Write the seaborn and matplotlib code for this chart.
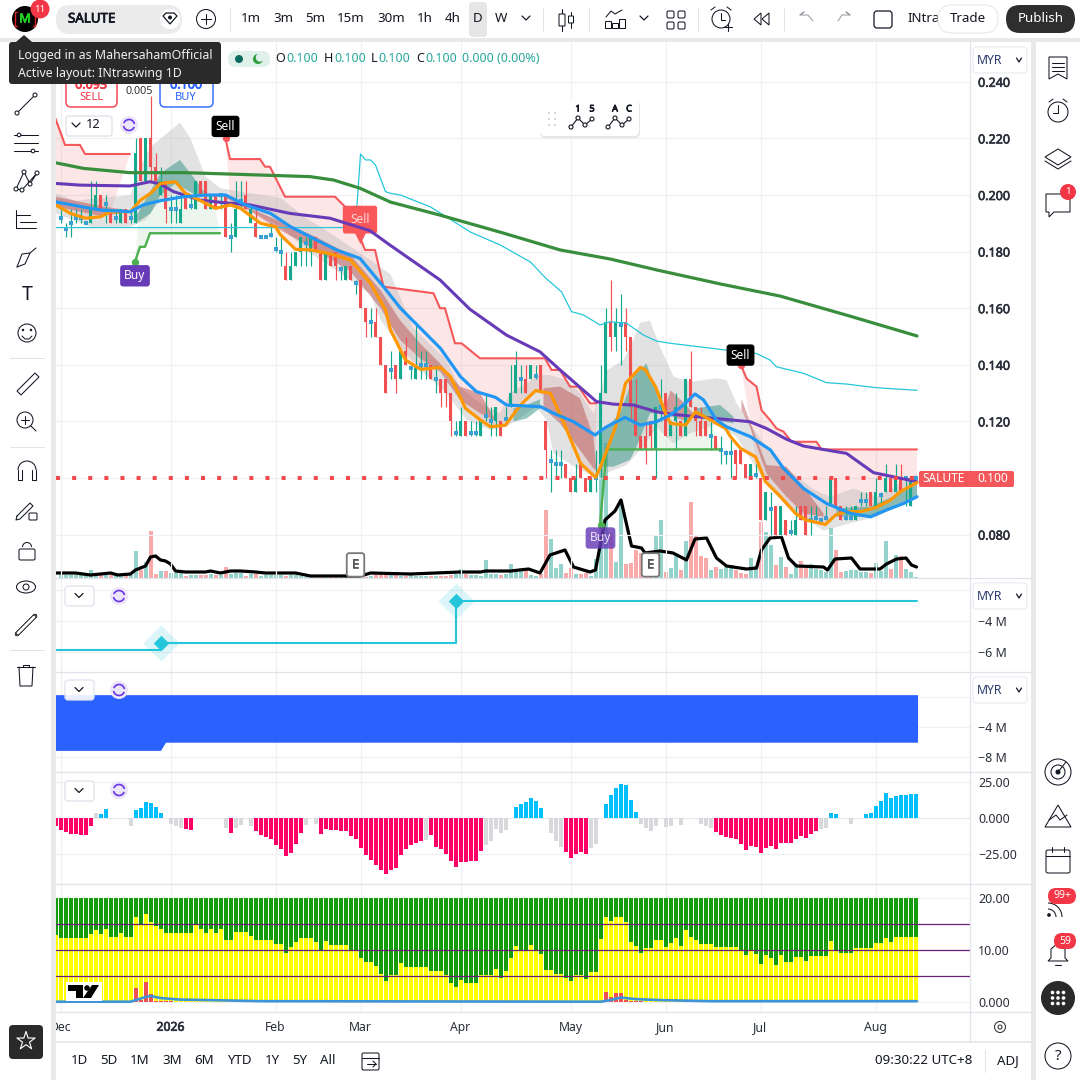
import numpy as np
import matplotlib
matplotlib.use('Agg')
import matplotlib.pyplot as plt
import matplotlib.patheffects as pe
from matplotlib.patches import FancyBboxPatch, Rectangle, Circle, Polygon
import seaborn as sns

# ---- candles, price x 1000, one entry per daily bar ----
opens = [192,188,190,192,192,190,190,195,200,197,
         195,192,190,195,192,190,220,205,220,210,
         200,205,195,195,190,200,196,195,205,205,
         195,200,200,200,185,185,198,200,190,190,
         185,185,186,181,180,175,170,175,180,183,
         180,185,180,170,180,180,174,170,175,169,
         170,160,155,155,150,140,138,140,135,145,
         139,135,140,140,140,135,135,135,130,116,
         115,120,116,116,115,122,120,120,120,121,
         125,130,135,135,135,136,140,120,106,105,
         105,105,100,95,105,100,95,100,105,130,
         155,150,154,155,150,125,115,115,120,110,
         125,130,115,120,120,115,135,125,120,120,
         115,115,110,109,109,110,110,105,100,101,
         100,85,89,90,80,85,81,80,90,90,
         85,86,85,86,90,100,90,86,86,85,
         92,92,95,90,94,95,100,95,100,100,90,100]
highs = [195,190,195,195,195,190,205,205,200,200,
         195,195,195,195,195,220,220,220,235,215,
         210,205,200,200,200,200,200,205,205,205,
         200,200,200,200,190,205,205,205,197,195,
         185,185,190,185,185,180,180,180,185,185,
         185,185,180,180,180,180,175,175,175,170,
         170,160,160,160,150,140,145,140,145,150,
         140,155,145,145,140,140,135,135,130,120,
         125,120,120,120,120,130,125,125,120,125,
         140,145,140,140,140,140,140,120,110,110,
         110,105,100,105,105,100,100,110,140,160,
         170,160,165,160,150,135,115,120,120,125,
         135,130,120,130,120,135,145,125,125,120,
         120,115,115,110,115,110,110,105,105,105,
         100,95,95,90,90,85,85,90,90,90,
         90,90,85,90,100,100,90,90,90,90,
         95,95,95,100,95,105,100,105,105,100,100,100]
lows = [190,185,185,190,190,190,190,195,195,190,
        190,190,190,190,190,190,205,205,205,205,
        200,190,190,190,190,195,195,195,200,195,
        195,195,195,185,180,185,195,195,190,185,
        185,185,185,180,175,170,170,175,175,175,
        175,180,170,170,175,170,170,170,170,165,
        160,150,150,150,140,130,135,130,135,140,
        135,135,135,135,135,130,125,125,115,115,
        115,115,115,115,115,120,115,115,115,120,
        125,130,130,130,135,135,130,100,95,100,
        100,100,95,95,100,95,95,95,100,130,
        145,145,140,145,120,115,110,105,110,100,
        120,115,115,110,115,115,125,115,115,115,
        110,110,105,105,100,100,105,100,100,100,
        85,85,80,80,80,80,80,80,85,80,
        80,85,85,85,90,90,85,85,85,85,
        90,90,90,90,90,95,95,95,95,90,90,100]
closes = [192,188,190,192,192,190,195,200,195,197,
          190,192,195,190,192,215,205,220,210,205,
          205,195,195,195,195,195,196,205,200,195,
          200,195,200,185,185,195,198,195,195,185,
          185,185,186,181,180,170,175,180,185,183,
          185,180,170,180,175,175,174,175,170,169,
          160,155,155,150,140,130,138,135,145,140,
          139,140,140,140,135,135,130,130,120,116,
          120,115,116,116,120,122,120,125,115,121,
          130,140,135,130,140,136,130,110,106,105,
          105,100,95,100,100,95,100,100,130,155,
          150,155,154,150,125,115,110,110,115,125,
          125,115,120,125,115,135,125,120,115,115,
          115,110,110,109,109,105,105,100,105,101,
          85,95,89,80,90,80,81,85,85,80,
          85,86,85,86,100,90,85,86,86,90,
          92,92,90,95,94,100,95,100,95,100,100,100]
volumes = [3,3,3,3,3,2,8,3,3,3,
           3,3,3,3,3,27,8,16,47,4,
           7,7,5,5,5,2,3,3,3,3,
           4,3,3,11,4,5,5,2,4,4,
           2,3,3,3,3,2,3,3,2,1,
           1,1,2,1,1,1,1,1,2,1,
           1,1,2,3,3,3,3,3,2,2,
           3,2,2,2,2,2,2,2,3,4,
           9,4,3,3,2,18,4,4,3,4,
           14,9,8,9,3,2,4,68,39,10,
           14,5,10,4,4,5,2,19,120,135,
           45,16,78,14,15,28,25,3,3,43,
           58,6,10,25,8,37,76,43,22,20,
           8,11,9,11,13,8,5,4,20,12,
           56,46,33,13,21,11,4,14,17,10,
           14,9,8,6,50,28,6,7,8,8,
           6,6,5,15,7,37,9,23,22,9,6,1]

# ---- lines on the price pane, read at their bends: bar number, price x 1000 ----
orange_x = [-1,2,5,8,10,14,16,18,20,23,25,28,31,34,36,40,43,44,47,50,54,58,62,65,66,69,72,76,78,81,84,86,89,92,95,98,101,104,107,108,111,113,116,117,119,121,122,125,127,130,133,134,136,139,141,144,147,149,153,155,157,160,163,166,168,171.3]
orange_y = [196.5,193.5,191.8,192.3,194.1,194.1,198.2,200.6,204.1,204.7,200.6,198,195.3,196.5,195.3,190,188.8,185.9,180.8,180.6,179.2,177,168.8,159.4,152.3,141.7,138.4,139.1,135.8,124.6,120.5,118.1,118.7,125.8,130.9,129.9,118.1,105.2,100.2,104,118,133.5,139.1,138.2,132.3,122.9,119.3,118.7,123.4,120.5,117.5,114.6,110.5,107.5,98.7,93.4,87.5,85.2,83.6,86.9,88.1,88.1,89.5,92.2,95.2,98.4]
blue_x = [-1,5,8,14,16.5,20,24.6,29.2,33,37,42,46,51.2,55.2,59.9,64.6,68,72,76,80,83.2,87,89.2,96,98.6,102.6,106.9,109.2,112.9,115.9,119.2,122,124.6,126.9,128.6,131.2,133.2,138,142,144.6,148.6,153.2,158,162,165.2,168.6,171.3]
blue_y = [197.6,195.6,194.7,194.1,196.5,198,199.4,200,200,196.5,193.5,188.8,184.1,180.6,177.6,167.6,160,152.9,145.8,135.8,130.5,128.5,125.8,125.2,122.9,119.9,115.2,118.1,121.4,118.7,119.9,122.3,125.8,129.7,127.6,120.5,118.1,114.6,109.9,103.4,96.3,91,87.5,86.3,88.7,91,93.4]
purple_x = [-1,3.9,13.9,17.9,19.9,22.6,27.9,32.6,37.9,45.9,53.9,61.9,65.9,75.9,81.9,89.2,95.9,99.9,107.2,110.6,114.6,119.2,122,130.6,137.9,141.2,145.2,148.6,153.2,157.2,162.6,167.2,171.3]
purple_y = [204.1,203.5,203.2,204.7,203.9,201.2,198.2,197.3,196.5,193.5,191.8,187.4,182.3,170,159.6,150.5,144.6,138.2,127,126.1,125.8,123.4,122.6,121.1,119.9,117.5,113.7,111.3,109.9,108.7,101.9,100.2,98.7]
long_x = [-1,4.6,13.9,25,49.9,54.6,59.9,66,75.9,87.9,99.9,109.9,119.3,131.9,143.9,157.9,171.3]
long_y = [211.4,209.4,207.9,207.9,206.5,205.3,202.4,197.5,192.9,186.9,180.6,177.4,173.5,168.6,164.3,157.2,150.2]
cyan_x = [-1,59,60,61,62,63,65,66,68,74,82,88,94,97,100.2,102.2,104.6,107.9,109.9,113.2,116.6,119.2,122,133.2,139.2,141.9,143.2,148.6,153.2,157.2,163.2,171.3]
cyan_y = [188.5,188.5,214.5,212.4,212.4,210.6,201.2,200.6,200,195.8,186.9,182.3,176.3,170.7,165.8,158.8,157.6,154.1,155.2,154.7,150.5,148.4,147.6,145.2,144,141.7,139.3,137,133.7,133.2,131.9,131]

# trailing stop pieces
red1_x = [-1,0.9,3.9,4.9,13.9]
red1_y = [227,217.7,217.7,214.5,214.5]
red2_x = [33,33.9,39.9,40.9,41.9,44.9,54.9,57.9,60.9,62.9,64.6,74.6,75.9,76.9,78.9,80.2,83.9,96.9,98.2,99.9,101.9,103.6,105.9,107.2]
red2_y = [220,212.7,212.7,210,210,199.4,199.4,194.1,180.6,180.6,167.6,165.3,160,160,147.6,147.6,142.3,142.3,138.2,138.2,132.3,132.3,126.4,126.4]
red3_x = [136.1,137.2,139.2,140.2,141.9,143.2,144.6,146.2,151.2,152.2,171.3]
red3_y = [139.9,135.2,132.3,124,120.5,117.5,116.4,112.8,112.8,110.1,110.1]
green1_x = [14.9,15.9,16.9,17.9,31.9]
green1_y = [176.4,181.7,181.7,186.5,186.5]
green2_x = [107.9,109.2,109.9,131.9]
green2_y = [83.4,109.9,110.1,110.1]

# grey envelope
grey_up_x = [-1,3,14,16,18,23.9,26,29,32,38,44,49,54.6,62,66,70.6,77.2,79.9,83.9,87.9,89.9,93.2,95.9,97.9,101.2,103.9,106.6,107.9,109.2,112.6,114.6,115.9,117.9,119.9,122.6,125.9,131.2,133.2,135.2,137.9,140.6,145.2,150.6,153.9,158.6,163.2,171.3]
grey_up_y = [200.6,198,200,210,217,225.6,220,206.5,202.4,200.6,199,192,185.8,177,172,152.9,141.7,132,126.4,122.9,130,133.5,136.4,136.4,134.6,130,122.9,130,138,141.7,148.8,154.9,155.6,146.4,135.8,134,135.2,134.6,126.4,119.3,112.2,103.4,96,93.4,96.3,93.4,101.5]
grey_lo_x = [-1,6,14,17,20,23,28,31,38,44,50,56,62,64,67.9,71.9,77.2,81.2,85.9,89.2,95.2,97.2,98.6,103.9,107.2,109.9,113.2,116.6,119.2,122.6,125.9,131.2,135.2,140.6,145.2,149.9,152.6,157.9,163.2,171.3]
grey_lo_y = [193.5,188.8,188.8,191.2,198,200.6,198,197,194.7,188.8,179.4,172.3,164.9,155.8,146.4,138.2,130,120.5,117,118.1,125,120.5,108.7,102.8,100.5,102.2,104.6,111,118,112.2,115.8,119,114.6,99.3,89.9,84.6,81.4,84,86.3,93.4]

# ribbons between the two fast averages
red_rib_1 = ([-1,8,14], [199.4,196.1,194.5], [-1,8,14], [195.9,192.6,193.9])
red_rib_2 = ([33,37,44,51,58,64,67.9,71.9,75.9,79.9,83.9,87.2],
             [200,195.9,190.6,185.3,178.8,166.4,155.8,147.6,140.5,132.3,129.9,120],
             [33,37,44,51,58,64,67.9,71.9,75.9,79.9,83.9,87.2],
             [199,195.3,187.6,180.6,173,160,148.8,142.3,137.6,127.6,122.9,120])
red_rib_3 = ([96.6,99.9,103.9,106.6,107.2], [131.7,132.3,128.2,114.6,102.8],
             [96.6,99.9,103.9,106.6,107.2], [124.6,119.3,109.9,103.4,102.8])
red_rib_4 = ([120.6,122,125,127], [122.9,131,126,122], [120.6,122,125,127], [122.9,122,120,122])
red_rib_5 = ([136.2,137.9,141.2,145.2,148.6,152.6], [128,119.9,104.6,104,96.9,87.5],
             [136.2,137.9,141.2,145.2,148.6,152.6], [124,118,101.6,93.4,87.5,86.3])
teal_rib_1 = ([15,20,23.9,27,29], [192,207.7,212.4,205.3,200.6], [15,18,20,23,27,29], [190,193.5,200,204.1,200,200.6])
teal_rib_2 = ([90.6,93.2,95.9], [124.6,125.8,127.8], [90.6,93.2,95.9], [119.9,121,124.6])
teal_rib_3 = ([108.2,111.9,114.6,117.2,119.2,120.6], [115.8,122.9,135.8,140.5,129.9,122.9],
              [108.2,110.6,113.9,115.2,117.9,120.6], [104,104,106.4,111,122.9,122.9])
teal_rib_4 = ([126.9,131.9,134.6], [124.6,125.8,121.7], [126.9,130.6,134.6], [123.4,120.5,119.3])
teal_rib_5 = ([155.2,161.9,167.2,171.3], [89.3,89.9,94,98.1], [155.2,161.9,167.2,171.3], [86.3,86.3,90.6,93.4])

# volume average line
vol_avg_x = [-1,3,6,10,11.5,14,15,17,18,19,20,21,22,23,25,29,30,32,34,36,39,41,47,50,60,62,70,80,84,85,87,90,93.6,95.9,97.9,100.9,102.6,105.9,107,108.9,110.9,112.1,114.2,116.2,116.9,119.9,122.5,125.2,126.9,129.2,131.2,133.2,137.2,139.2,140.2,141.9,144.2,145.6,147.2,152.6,153.4,154.9,158.2,159.9,163.9,165.2,167.2,169.1,170.2,171.2]
vol_avg_y = [5,5,3,5,3,4,8,12,21,22,18,17,14,7,6,6,7,5,7,7,6,5,5,2,2,5,4,6,6,7,7,7,9,5,23,28,11,6,8,58,67,78,32,30,25,27,25,18,39,40,20,12,9,10,28,40,41,20,12,11,8,19,20,9,9,14,19,20,13,11]

# ---- lower panes ----
pane2_x = [-1,20,20,79,79,171.3]
pane2_y = [-5.87,-5.87,-5.45,-5.45,-2.71,-2.71]
pane2_marks_x = [20,79]
pane2_marks_y = [-5.45,-2.71]
flow_x = [-1,20,21,171.4]
flow_top = [0.27,0.27,0.27,0.27]
flow_bottom = [-7.16,-7.16,-6.07,-6.07]

momentum = [-8.1,-9.7,-10.9,-10.9,-11.6,-11.6,-5.3,3.5,2.8,6.3,
            0,0,0,0,-5.1,5.8,6.9,11.1,10.4,7.6,
            3.5,0,-3.9,-5.1,-6.5,-7.4,-8.1,0,0,0,
            0,0,0,-6.5,-10,-6.5,-4.6,0,-5.3,-8.8,
            -11.6,-12.7,-14.4,-18.5,-21.3,-26.2,-23.8,-17.8,-10,-4.6,
            0,-3.9,-10.9,-7.4,-8.1,-8.1,-8.8,-8.8,-12.3,-14.4,
            -20.6,-25.5,-28.9,-32.4,-35.9,-38.7,-35.9,-34.5,-25.5,-21.3,
            -18.5,-17.1,-15.7,-15,-11.3,-19.7,-21.3,-24.8,-29.4,-33.8,
            -30.3,-30.3,-29.6,-29.6,-22.7,-18.5,-15.7,-7.4,-10.2,-8.1,
            0,7.6,10,11.1,13.9,12,7.4,0,-10,-15.5,
            -19.7,-23.2,-27.3,-24.5,-23.2,-24.5,-20.4,-17.6,0,10,
            16.2,21.1,23.8,23.2,12.7,4.4,-3.9,-6.7,-8.8,-5.3,
            0,-6,-5.3,0,-4.6,0,0,0,-3.9,-5.3,
            -6.7,-9.5,-11.6,-13,-13.7,-14.4,-17.8,-22,-19.2,-19.9,
            -24.1,-20.6,-19.2,-21.3,-17.1,-17.1,-17.1,-14.4,-12.3,-13.7,
            -11,-8.8,-7.4,-6.7,3.7,3,0,0,-3.9,0,
            0,3,3.7,8.6,12,17.6,14.1,15.5,16.2,16.2,16.9,16.9]
momentum_grey = [7,14,22,23,24,33,35,36,38,49,51,73,85,86,87,88,89,98,99,100,106,107,116,117,118,119,121,122,124,128,129,130,152,153,158]

yellow = [12.2,12.2,12.2,12.2,12.2,12.2,13,13.7,13,13.9,
          12.4,12.4,13.2,12.4,12.4,16.2,14.7,16.8,15.3,14.5,
          13.9,13.2,13.2,13.2,13.2,13.2,13.2,14.7,13.9,13.2,
          13.9,13.2,13.9,11.8,11.8,13.4,13.4,13.4,12.6,11.8,
          11.8,11.8,11.8,11.1,11.1,9.3,10.5,11.4,12.2,12.2,
          12.2,11.4,9.7,11.6,10.9,10.9,10.9,10.9,9.9,9.9,
          8.4,7.6,7.6,6.8,5.3,4,5.1,5.1,7.4,6.6,
          6.6,6.6,6.6,6.6,5.9,5.9,5.9,5.1,3.6,2.8,
          4.2,3.6,3.6,3.6,5.1,5.1,5.1,6.3,4.5,5.9,
          8.4,10.7,9.7,9.7,10.9,9.9,9.1,6.1,6.1,5.3,
          5.3,4.5,4,5.1,5.1,4.3,5.7,5.7,12,16.2,
          15.5,16.2,16.2,15.3,11.4,10.7,9.3,10.3,10.3,11.8,
          11.8,10.5,11.2,12.2,10.7,13.7,12.4,11.8,11.1,11.1,
          11.1,10.5,10.5,10.5,10.5,10.5,9.7,8.9,9.9,9.1,
          7.2,8.9,8.4,7,8.9,7.6,7.6,8.6,8.6,7.8,
          8.8,8.8,8.8,8.8,11.6,9.9,9.3,9.3,9.3,10.3,
          10.3,10.3,10.3,11.2,11.2,12.2,11.4,12.4,12.4,12.4,12.4,12.4]
stack_top = [20] * 172
# the bar cut off at the left edge of the lower panes
lead_bar = [-1]
lead_momentum = [-5.6]
lead_yellow = [12.8]
lead_top = [20]
spike_x = [15,16,17,18,19,20,21,22,109,110,111,112,113,114,115,116]
spike_y = [2.7,0.4,3.8,1.5,0.2,0.1,0.1,0.1,1.9,1,1.7,1.7,0.4,0.1,0.1,0.1]
drift_x = [-1,14,15,17,18,20,24,30,40,108,110,112,115,120,130,171.3]
drift_y = [0,0,0.3,0.9,1.1,0.7,0.4,0.3,0.1,0,0.3,0.8,0.5,0.3,0.1,0.1]
lines_at = [5,10,15]

# ---- axis labels ----
month_x = [0,22,43,60,80,102,121,140,163]
month_names = ['Dec','2026','Feb','Mar','Apr','May','Jun','Jul','Aug']
price_ticks = [80,100,120,140,160,180,200,220,240]
price_names = ['0.080','0.100','0.120','0.140','0.160','0.180','0.200','0.220','0.240']

GREEN, RED = '#14a98c', '#f05052'

sns.set_theme(style='white')
plt.rcParams['font.family'] = ['Noto Sans', 'DejaVu Sans']
plt.rcParams['axes.unicode_minus'] = False

fig = plt.figure(figsize=(10.8, 10.8), dpi=100, facecolor='white')


def heavy(t, w=0.45):
    # the installed Noto Sans has no bold cut here, so thicken the strokes
    t.set_path_effects([pe.withStroke(linewidth=w, foreground=t.get_color())])


def pane(top, bottom, z=2):
    ax = fig.add_axes([56 / 1080, 1 - bottom / 1080, 914 / 1080, (bottom - top) / 1080], zorder=z)
    ax.patch.set_visible(False)
    ax.set_xlim(-0.9, 181.9)
    for s in ax.spines.values():
        s.set_visible(False)
    return ax


def finish(ax, ticks, names, ylim):
    ax.set_xlim(-0.9, 181.9)
    ax.set_ylim(*ylim)
    ax.set_xlabel('')
    ax.set_ylabel('')
    ax.yaxis.tick_right()
    ax.set_yticks(ticks)
    ax.set_yticklabels(names, fontsize=9, color='#2a2e39')
    ax.set_xticks(month_x)
    ax.set_xticklabels([])
    ax.tick_params(length=0, axis='y', pad=5.8)
    ax.tick_params(length=0, axis='x')
    ax.grid(True, color='#f0f0f3', lw=0.9)
    ax.set_axisbelow(True)


def draw_line(ax, xs, ys, color, lw, z=3):
    sns.lineplot(x=xs, y=ys, ax=ax, color=color, linewidth=lw, sort=False,
                 estimator=None, errorbar=None, legend=False, zorder=z, solid_joinstyle='round')


def band(ax, xu, yu, xl, yl, color, alpha, z=0.8):
    xs = list(xu) + list(xl)[::-1]
    ys = list(yu) + list(yl)[::-1]
    ax.fill(xs, ys, color=color, alpha=alpha, lw=0, zorder=z)


def part(xs, ys, a, b):
    # the bends of a line that lie between two bars
    keep = [k for k, v in enumerate(xs) if a <= v <= b]
    return [xs[k] for k in keep], [ys[k] for k in keep]


bars = np.arange(172)
o, h, l, c = [np.array(v, dtype=float) for v in (opens, highs, lows, closes)]
is_up = c >= o
is_doji = o == c

# ---- volume sits behind the price pane ----
vax = pane(42, 578, z=1)
sns.barplot(x=bars, y=volumes, hue=['u' if u else 'd' for u in is_up],
            palette={'u': '#93d3cb', 'd': '#f8a9aa'}, native_scale=True, dodge=False,
            legend=False, saturation=1, linewidth=0, width=0.8, errorbar=None, ax=vax)
draw_line(vax, vol_avg_x, vol_avg_y, 'black', 2.3)
vax.set_xlim(-0.9, 181.9)
vax.set_ylim(0, 536)
vax.set_xlabel('')
vax.set_ylabel('')
vax.set_xticks([])
vax.set_yticks([])

# ---- price pane ----
main = pane(42, 578, z=2)
band(main, grey_up_x, grey_up_y, grey_lo_x, grey_lo_y, '#b5b5b5', 0.38)
for x0, x1, yx, yy in [(-1, 13.9, red1_x, red1_y), (33, 107.2, red2_x, red2_y), (136.1, 171.3, red3_x, red3_y)]:
    ox, oy = part(orange_x, orange_y, x0, x1)
    band(main, yx, yy, ox, oy, '#ef5350', 0.14, z=0.7)
for x0, x1, yx, yy in [(14.9, 31.9, green1_x, green1_y), (107.9, 131.9, green2_x, green2_y)]:
    ox, oy = part(orange_x, orange_y, x0, x1)
    band(main, yx, yy, ox, oy, '#4caf50', 0.10, z=0.7)
for rib in (red_rib_1, red_rib_2, red_rib_3, red_rib_4, red_rib_5):
    band(main, *rib, '#b23a3a', 0.42)
for rib in (teal_rib_1, teal_rib_2, teal_rib_3, teal_rib_4, teal_rib_5):
    band(main, *rib, '#1c8a7a', 0.45)

wick_colors = [GREEN if u else RED for u in is_up]
main.vlines(bars, l, h, colors=wick_colors, lw=0.85, zorder=1.5)
solid = ~is_doji
main.bar(bars[solid], np.abs(c - o)[solid], bottom=np.minimum(o, c)[solid], width=0.72,
         color=[GREEN if u else RED for u in is_up[solid]], lw=0, zorder=1.6)
sns.scatterplot(x=bars[is_doji], y=c[is_doji], ax=main, marker='s', s=7, color='#3aa0d4',
                linewidth=0, legend=False, zorder=1.7)

draw_line(main, cyan_x, cyan_y, '#26c6da', 0.9, z=2)
for xs, ys in [(red1_x, red1_y), (red2_x, red2_y), (red3_x, red3_y)]:
    draw_line(main, xs, ys, '#f4585a', 1.5, z=2.2)
for xs, ys in [(green1_x, green1_y), (green2_x, green2_y)]:
    draw_line(main, xs, ys, '#4caf50', 1.7, z=2.2)
draw_line(main, long_x, long_y, '#388e3c', 2.3)
draw_line(main, purple_x, purple_y, '#673ab7', 2.2)
draw_line(main, orange_x, orange_y, '#ff9800', 2.3)
draw_line(main, blue_x, blue_y, '#2196f3', 2.3)

# last price dots
main.plot([-1, 172.5], [100, 100], color='#f4484a', lw=2.9, ls=(0, (1, 3)), zorder=3.2, dash_capstyle='butt')

finish(main, price_ticks, price_names, (64.67, 254.07))
for t in main.get_yticklabels():
    heavy(t)
main.set_xticks(month_x)


def signal(ax, x, y, label, fc, dy, dot=None, tc='white', alpha=1, pad=0.35, fs=8.6):
    if dot:
        sns.scatterplot(x=[x], y=[y], ax=ax, color=dot, s=28, linewidth=0, legend=False, zorder=6)
    ax.annotate(label, xy=(x, y), xytext=(0, dy * 0.72), textcoords='offset points', ha='center', va='center',
                fontsize=fs, color=tc, zorder=7, alpha=alpha,
                bbox=dict(boxstyle='round,pad=%s,rounding_size=0.25' % pad, fc=fc, ec='none', alpha=alpha))


signal(main, 14.9, 176.4, 'Buy', '#673ab7', -14, dot='#4caf50')
signal(main, 33, 220, 'Sell', 'black', 12, dot='#f4585a')
signal(main, 108, 83.4, 'Buy', '#673ab7', -13, dot='#4caf50', alpha=0.82)
signal(main, 136, 139.9, 'Sell', 'black', 10, dot='#f4585a')
# larger sell flag with its pointer
sns.scatterplot(x=[59.9], y=[185.2], ax=main, marker='v', s=90, color='#f9585a', linewidth=0, legend=False, zorder=2.5)
main.annotate('Sell', xy=(59.9, 191.3), ha='center', va='center', fontsize=8.6, color='#ffd9d9', zorder=2.6,
              bbox=dict(boxstyle='round,pad=0.62,rounding_size=0.2', fc='#f9585a', ec='none'))
for ex in (59, 118):
    e_mark = main.annotate('E', xy=(ex, 69.3), ha='center', va='center', fontsize=9, color='#555555', zorder=7,
                           bbox=dict(boxstyle='round,pad=0.42,rounding_size=0.2', fc='white', ec='#777777', lw=1.3))
    heavy(e_mark)

# ---- pane 2 ----
p2 = pane(578, 672)
draw_line(p2, pane2_x, pane2_y, '#26c6da', 1.5)
sns.scatterplot(x=pane2_marks_x, y=pane2_marks_y, ax=p2, marker='D', s=340, color='#26c6da', alpha=0.16, linewidth=0, legend=False)
sns.scatterplot(x=pane2_marks_x, y=pane2_marks_y, ax=p2, marker='D', s=62, color='#26c6da', linewidth=0, legend=False, zorder=4)
finish(p2, [-2, -4, -6], ['', '\u22124 M', '\u22126 M'], (-7.29, -1.226))

# ---- pane 3 ----
p3 = pane(672, 772)
p3.fill_between(flow_x, flow_bottom, flow_top, color='#2b62ff', lw=0, zorder=2)
finish(p3, [0, -4, -8], ['', '\u22124 M', '\u22128 M'], (-10.04, 3.29))

# ---- pane 4 ----
p4 = pane(772, 884)
states = ['b' if v > 0 else 'r' for v in momentum]
for k in momentum_grey:
    states[k] = 'g'
sns.barplot(x=bars, y=momentum, hue=states, palette={'b': '#00bfff', 'r': '#ff0066', 'g': '#d8d9dd'},
            native_scale=True, dodge=False, legend=False, saturation=1, linewidth=0, width=0.8, errorbar=None, ax=p4)
sns.barplot(x=lead_bar, y=lead_momentum, color='#ff0066', native_scale=True, saturation=1, linewidth=0, width=0.8, errorbar=None, ax=p4)
p4.axhline(0, color='#e4e4e8', lw=0.8, ls=(0, (2, 2)), zorder=0.9)
finish(p4, [25, 0, -25], ['25.00', '0.000', '\u221225.00'], (-45.6, 32.2))

# ---- pane 5 ----
p5 = pane(884, 1012)
sns.barplot(x=lead_bar, y=lead_top, color='#169b0a', native_scale=True, saturation=1, linewidth=0, width=0.8, errorbar=None, ax=p5)
sns.barplot(x=lead_bar, y=lead_yellow, color='#ffff00', native_scale=True, saturation=1, linewidth=0, width=0.8, errorbar=None, ax=p5)
sns.barplot(x=bars, y=stack_top, color='#169b0a', native_scale=True, saturation=1, linewidth=0, width=0.8, errorbar=None, ax=p5)
sns.barplot(x=bars, y=yellow, color='#ffff00', native_scale=True, saturation=1, linewidth=0, width=0.8, errorbar=None, ax=p5)
sns.barplot(x=spike_x, y=spike_y, color='#f0514f', native_scale=True, saturation=1, linewidth=0, width=0.8, errorbar=None, ax=p5)
for v in lines_at:
    p5.axhline(v, color='#6a1f78', lw=0.9, zorder=4)
draw_line(p5, drift_x, drift_y, '#3d94d8', 1.9, z=5)
finish(p5, [0, 10, 20], ['0.000', '10.00', '20.00'], (-1.98, 22.63))
p5.set_xticks(month_x)
p5.set_xticklabels(month_names, fontsize=8.8, color='#2a2e39')
heavy(p5.get_xticklabels()[1], 0.5)
p5.tick_params(axis='x', pad=6.3, length=0)

# ---- interface around the chart, in screen pixels ----
ui = fig.add_axes([0, 0, 1, 1], zorder=20)
ui.set_xlim(0, 1080)
ui.set_ylim(1080, 0)
ui.axis('off')
INK = '#131722'


def rect(x0, y0, x1, y1, fc, z=1):
    ui.add_patch(Rectangle((x0, y0), x1 - x0, y1 - y0, fc=fc, ec='none', zorder=z))


def rbox(x0, y0, x1, y1, r=4, fc='white', ec='none', lw=1, z=2, alpha=1):
    ui.add_patch(FancyBboxPatch((x0, y0), x1 - x0, y1 - y0, boxstyle='round,pad=0,rounding_size=%s' % r,
                                fc=fc, ec=ec, lw=lw, zorder=z, alpha=alpha))


def txt(x, y, s, size=9.6, color=INK, ha='center', bold=False, z=6):
    t = ui.text(x, y, s, fontsize=size, color=color, ha=ha, va='center', zorder=z)
    if bold:
        heavy(t, 0.55)


def seg(xs, ys, color=INK, lw=0.75, z=4):
    ui.plot(xs, ys, color=color, lw=lw, zorder=z, solid_capstyle='round')


def ring(x, y, r, fc='none', ec=INK, lw=0.75, z=4):
    ui.add_patch(Circle((x, y), r, fc=fc, ec=ec, lw=lw, zorder=z))


def chev(x, y, w=4, color=INK):
    seg([x - w, x, x + w], [y - 2, y + 2, y - 2], color=color, lw=0.9)


# background strips
rect(0, 0, 1080, 38, 'white')
rect(0, 38, 1080, 42, '#e9e9e9')
rect(0, 42, 51, 1080, 'white')
rect(51, 42, 56, 1080, '#e9e9e9')
rect(1031, 42, 1036, 1080, '#e9e9e9')
rect(1036, 42, 1080, 1080, 'white')
rect(970, 42, 1031, 44, 'white')
rect(56, 1041, 1031, 1043, '#e9e9e9')
rect(56, 1043, 1031, 1080, 'white')
for yy in (578, 672, 772, 884, 1012):
    seg([56, 1031], [yy, yy], color='#e0e3eb', lw=0.9, z=3)
seg([970, 970], [42, 1041], color='#e0e3eb', lw=0.9, z=3)

# top toolbar
ring(25, 19, 13, fc='black', ec='none')
txt(25, 19, 'M', size=9, color='#22d322', bold=True)
seg([17, 15, 15, 17], [12, 12, 26, 26], color='#e02020', lw=1)
seg([33, 35, 35, 33], [12, 12, 26, 26], color='#e02020', lw=1)
ring(40, 9, 9.5, fc='#f23645', ec='none', z=5)
txt(40, 9, '11', size=7, color='white')
rbox(56, 5, 182, 34, r=14, fc='#ebebeb')
txt(68, 19, 'SALUTE', size=9.6, ha='left', bold=True)
ring(170, 19, 10, fc='white', ec='none')
ui.add_patch(Polygon([[163, 16], [166, 13], [174, 13], [177, 16], [170, 24]], closed=True, fc='none', ec=INK, lw=0.9, zorder=5))
ring(170, 17.5, 2, fc=INK, ec='none', z=6)
ring(206, 19, 9.5)
seg([201, 211], [19, 19])
seg([206, 206], [14, 24])
seg([230, 230], [8, 31], color='#e0e3eb')
for x0, s in zip([251, 283, 315, 351, 391, 425, 453, 501], ['1m', '3m', '5m', '15m', '30m', '1h', '4h', 'W']):
    txt(x0, 19, s)
rbox(469, 2, 487, 37, r=4, fc='#e6e6e6')
txt(478, 19, 'D')
chev(526, 18)
seg([543, 543], [8, 31], color='#e0e3eb')
seg([562, 562], [9, 31])
rbox(559, 14, 565, 26, r=0.5, fc='white', ec=INK, lw=0.75, z=5)
seg([571, 571], [12, 28])
rbox(568.5, 16, 573.5, 23, r=0.5, fc='white', ec=INK, lw=0.75, z=5)
seg([589, 589], [8, 31], color='#e0e3eb')
seg([606, 611, 615, 622], [17, 11, 14, 10])
for xb, tb in zip([605, 612, 619], [21, 23, 19]):
    ui.add_patch(Rectangle((xb, tb), 6, 28 - tb, fc='none', ec=INK, lw=0.75, zorder=4))
chev(644, 18)
for gx, gy in [(667, 11), (678, 11), (667, 22), (678, 22)]:
    rbox(gx, gy, gx + 7, gy + 7, r=1.5, fc='none', ec=INK, lw=0.75)
seg([698, 698], [8, 31], color='#e0e3eb')
ring(721, 19, 9)
seg([721, 721, 725], [13, 20, 20])
seg([715, 711], [7, 10])
seg([727, 731], [7, 10])
seg([724, 732], [27, 27])
seg([728, 728], [23, 31])
ui.add_patch(Polygon([[754, 19], [761, 13], [761, 25]], closed=True, fc='none', ec=INK, lw=0.75, zorder=4))
ui.add_patch(Polygon([[762, 19], [769, 13], [769, 25]], closed=True, fc='none', ec=INK, lw=0.75, zorder=4))
seg([784, 784], [8, 31], color='#e0e3eb')
seg([800, 804, 800, 808, 813], [15, 12, 15, 15, 21], color='#9a9ca3')
seg([850, 846, 850, 842, 838], [15, 12, 15, 15, 21], color='#9a9ca3')
rbox(874, 11, 892, 28, r=3, fc='none', ec=INK, lw=0.9)
txt(908, 19, 'INtra', ha='left')
rbox(938, 5, 998, 33, r=14, fc='white', ec='#ececec', z=7)
txt(968, 19, 'Trade', z=8)
rbox(1006, 5, 1075, 33, r=14, fc='#2e2e2e')
txt(1041, 19, 'Publish', color='white')

# legend row
rbox(228, 51, 270, 67, r=8, fc='#dff1ea')
ring(239, 59, 4, fc='#0b6b5f', ec='none', z=5)
ring(258, 59, 5, fc='#2e9e3f', ec='none', z=5)
ring(260, 57.5, 4.2, fc='#dff1ea', ec='none', z=6)
for xv, lab in [(286, 'O'), (334, 'H'), (378, 'L'), (425, 'C')]:
    txt(xv - 1, 59, lab, ha='right', size=9)
    txt(xv, 59, '0.100', ha='left', color='#26a69a', size=9)
txt(462, 59, '0.000 (0.00%)', ha='left', color='#26a69a', size=9)

# quick trade buttons, cut by the tooltip
rbox(66, 78, 117, 107, r=5, fc='white', ec='#f23645')
txt(91, 85, '0.093', color='#f23645', size=9, bold=True)
txt(91, 98, 'SELL', color='#f23645', size=8)
rbox(160, 78, 213, 107, r=5, fc='white', ec='#2962ff')
txt(186, 85, '0.100', color='#2962ff', size=9, bold=True)
txt(186, 98, 'BUY', color='#2962ff', size=8)
txt(139, 91, '0.005', size=7.8, color='#333333')

# tooltip
ui.add_patch(Polygon([[16, 42], [24, 35], [32, 42]], closed=True, fc='#2a2a2a', ec='none', zorder=8))
rbox(9, 42, 221, 84, r=3, fc='#2a2a2a', z=8)
ui.text(18, 55, 'Logged in as MahersahamOfficial', fontsize=8.9, color='#f0f0f0', va='center', zorder=9)
ui.text(18, 73, 'Active layout: INtraswing 1D', fontsize=8.9, color='#f0f0f0', va='center', zorder=9)

# pane buttons
rbox(66, 116, 112, 136, r=3, fc='white', ec='#e0e3eb')
chev(76, 125)
txt(93, 125, '12', size=9.2)
for by in (596, 690):
    rbox(65, by - 10, 94, by + 10, r=3, fc='white', ec='#e0e3eb', alpha=0.9)
    chev(79, by - 0.5)
rbox(65, 781, 94, 801, r=3, fc='white', ec='#e0e3eb')
chev(79, 790.5)
for cx, cy in [(129, 125), (119, 596), (119, 690), (119, 790)]:
    ring(cx, cy, 9, fc='#ece6fa', ec='none', z=4)
    ui.add_patch(matplotlib.patches.Arc((cx, cy), 11, 11, theta1=200, theta2=350, ec='#6a35e8', lw=1.2, zorder=5))
    ui.add_patch(matplotlib.patches.Arc((cx, cy), 11, 11, theta1=20, theta2=170, ec='#6a35e8', lw=1.2, zorder=5))

# floating drawing widget
rbox(540, 101, 640, 138, r=5, fc='#e6e6e6', z=3)
rbox(540, 100, 639, 136, r=5, fc='white', z=3)
for gy in (113, 119, 125):
    for gx in (549, 555):
        ring(gx, gy, 0.9, fc='#c0c0c0', ec='none', z=5)
for x0, a, b in [(571, '1', '5'), (608, 'A', 'C')]:
    seg([x0, x0 + 7, x0 + 14, x0 + 21], [127, 118, 125, 119], lw=0.8, z=5)
    for px, py in zip([x0, x0 + 7, x0 + 14, x0 + 21], [127, 118, 125, 119]):
        ring(px, py, 2, fc='white', lw=0.8, z=6)
    txt(x0 + 7, 109, a, size=6.6, bold=True)
    txt(x0 + 21, 109, b, size=6.6, bold=True)

# currency selectors
for my in (60, 596, 690):
    rbox(973, my - 13, 1027, my + 13, r=4, fc='white', ec='#eceef2')
    txt(990, my, 'MYR', size=8.8, color='#2a3a6a')
    chev(1019, my, w=2.5)

# last price tag
rbox(919, 471, 1014, 487, r=2, fc='#f4575a', z=5)
txt(944, 479, 'SALUTE', size=8.6, color='white')
txt(993, 479, '0.100', size=8.6, color='white')

# TradingView mark
rect(66, 982, 102, 1001, 'white', z=6)
ui.add_patch(Polygon([[68, 985], [83, 985], [83, 998], [76, 998], [76, 991], [68, 991]], closed=True, fc='black', ec='none', zorder=7))
ring(87, 988, 2.8, fc='black', ec='none', z=7)
ui.add_patch(Polygon([[92, 985], [99, 985], [91, 998], [83, 998]], closed=True, fc='black', ec='none', zorder=7))

# gear
ring(1000, 1027, 5.5, ec='#333333')
ring(1000, 1027, 2, ec='#333333')

# bottom toolbar
for x0, s in zip([79, 109, 140, 172, 204, 239, 272, 300, 328], ['1D', '5D', '1M', '3M', '6M', 'YTD', '1Y', '5Y', 'All']):
    txt(x0, 1061, s, size=9.6)
rbox(362, 1053, 379, 1070, r=1.5, fc='none', ec=INK, lw=0.75)
seg([362, 379], [1058, 1058])
seg([367, 376], [1064, 1064])
seg([373, 376, 373], [1061, 1064, 1067])
txt(924, 1061, '09:30:22 UTC+8', size=9.6)
seg([985, 985], [1050, 1072], color='#e0e3eb')
txt(1008, 1061, 'ADJ', size=9.6)
rbox(9, 1025, 43, 1059, r=4, fc='#2a2a2a', z=4)
ui.scatter([26], [1041], marker='*', s=190, facecolor='none', edgecolor='white', lw=0.8, zorder=6)

# left drawing tools
seg([17, 35], [113, 95])
ring(17, 113, 2, fc='white')
ring(35, 95, 2, fc='white')
for ty in (135, 143, 151):
    seg([14, 38], [ty, ty])
ring(19, 135, 1.8, fc='white')
ring(33, 151, 1.8, fc='white')
pts_x, pts_y = [16, 24, 30, 37, 22, 16], [189, 172, 184, 173, 190, 189]
seg(pts_x, pts_y)
for a, b in zip(pts_x[:-1], pts_y[:-1]):
    ring(a, b, 2, fc='white')
seg([16, 16], [210, 228])
seg([16, 36], [228, 228])
seg([16, 30], [215, 215])
seg([20, 36], [222, 222])
seg([17, 22, 30, 36], [267, 254, 253, 248])
seg([17, 25, 30], [267, 264, 253])
txt(27, 295, 'T', size=14)
ring(27, 333, 9)
seg([22, 25, 29, 32], [336, 339, 339, 336])
ring(23, 330, 0.7, fc=INK)
ring(31, 330, 0.7, fc=INK)
seg([10, 44], [358, 358], color='#e0e3eb')
ui.add_patch(Polygon([[17, 391], [35, 373], [39, 377], [21, 395]], closed=True, fc='none', ec=INK, lw=0.75, zorder=4))
ring(25, 420, 8)
seg([31, 36], [426, 431])
seg([21, 29], [420, 420])
seg([25, 25], [416, 424])
seg([10, 44], [447, 447], color='#e0e3eb')
ui.add_patch(matplotlib.patches.Arc((27, 470), 18, 18, theta1=180, theta2=360, ec=INK, lw=0.75, zorder=4))
seg([18, 18, 22, 22], [470, 480, 480, 470])
seg([36, 36, 32, 32], [470, 480, 480, 470])
seg([17, 30, 33, 20, 16, 17], [516, 503, 506, 519, 520, 516])
rbox(29, 513, 37, 520, r=1, fc='white', ec=INK, lw=0.75)
rbox(19, 549, 35, 560, r=1.5, fc='none', ec=INK, lw=0.75)
ui.add_patch(matplotlib.patches.Arc((27, 547), 9, 9, theta1=180, theta2=360, ec=INK, lw=0.75, zorder=4))
ui.add_patch(matplotlib.patches.Ellipse((26, 587), 19, 12, fc='none', ec=INK, lw=0.75, zorder=4))
ring(26, 587, 3)
seg([17, 26, 35, 26, 17], [634, 625, 616, 625, 634], lw=3.2, color='#444444')
seg([18, 26, 34], [633, 625, 617], lw=1.8, color='white', z=5)
seg([10, 44], [650, 650], color='#e0e3eb')
seg([17, 35], [667, 667])
seg([23, 23, 29, 29], [667, 665, 665, 667])
seg([19, 20, 32, 33], [667, 686, 686, 667])

# right side tools
ui.add_patch(Polygon([[1049, 57], [1067, 57], [1067, 79], [1058, 74], [1049, 79]], closed=True, fc='none', ec=INK, lw=0.75, zorder=4))
for ty in (63, 67, 71):
    seg([1052, 1064], [ty, ty])
ring(1058, 112, 10)
seg([1058, 1058, 1053], [105, 113, 113])
seg([1049, 1053], [102, 99])
seg([1067, 1063], [102, 99])
ui.add_patch(Polygon([[1045, 157], [1058, 149], [1071, 157], [1058, 165]], closed=True, fc='none', ec=INK, lw=0.75, zorder=4))
seg([1045, 1058, 1071], [161, 169, 161])
ui.add_patch(Polygon([[1046, 194], [1070, 194], [1070, 212], [1054, 212], [1049, 217], [1049, 212], [1046, 212]], closed=True, fc='none', ec=INK, lw=0.75, zorder=4))
ring(1068, 192, 8, fc='#f23645', ec='none', z=5)
txt(1068, 192, '1', size=7, color='white')
ring(1058, 772, 13)
ring(1058, 772, 7)
ring(1058, 772, 2, fc=INK)
seg([1058, 1066], [772, 762])
ui.add_patch(Polygon([[1045, 827], [1058, 805], [1071, 827]], closed=True, fc='none', ec=INK, lw=0.75, zorder=4))
seg([1049, 1056, 1060, 1067], [820, 815, 820, 815])
rbox(1046, 850, 1070, 873, r=2, fc='none', ec=INK, lw=0.75)
seg([1046, 1070], [856, 856])
seg([1052, 1052], [847, 852])
seg([1064, 1064], [847, 852])
ui.add_patch(matplotlib.patches.Arc((1048, 917), 28, 28, theta1=270, theta2=360, ec=INK, lw=0.75, zorder=4))
ui.add_patch(matplotlib.patches.Arc((1048, 917), 16, 16, theta1=270, theta2=360, ec=INK, lw=0.75, zorder=4))
ring(1049, 915, 1.3, fc=INK)
rbox(1048, 888, 1076, 904, r=8, fc='#f23645', z=5)
txt(1062, 896, '99+', size=7.6, color='white')
ui.add_patch(Polygon([[1048, 961], [1051, 958], [1051, 949], [1058, 943], [1065, 949], [1065, 958], [1068, 961]], closed=True, fc='none', ec=INK, lw=0.75, zorder=4))
seg([1055, 1061], [965, 965])
rbox(1054, 933, 1076, 949, r=8, fc='#f23645', z=5)
txt(1065, 941, '59', size=7.6, color='white')
ring(1058, 998, 17, fc='#2a2a2a', ec='none')
for dy in (-5.5, 0, 5.5):
    for dx in (-5.5, 0, 5.5):
        ring(1058 + dx, 998 + dy, 1.8, fc='white', ec='none', z=6)
ring(1058, 1056, 13)
txt(1058, 1056, '?', size=11)

fig.savefig('out.png', dpi=100, facecolor='white')
